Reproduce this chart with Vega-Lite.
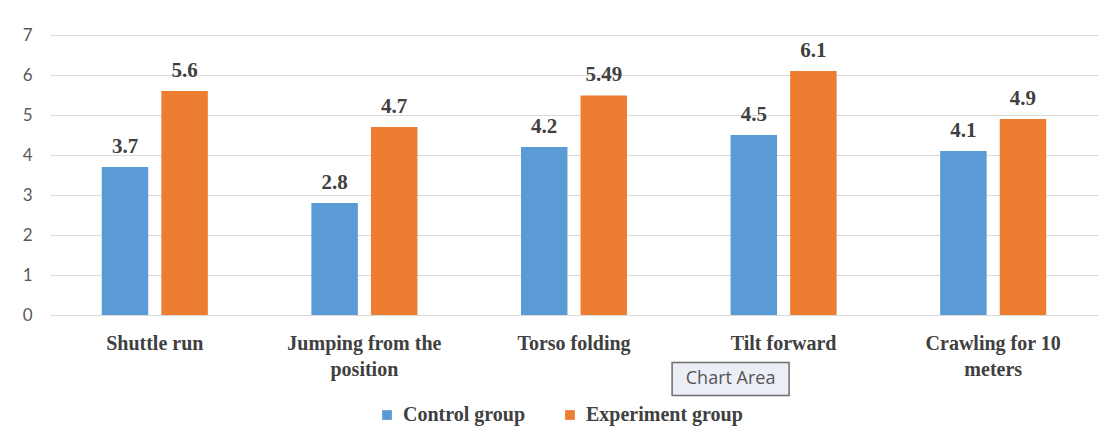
{
  "$schema": "https://vega.github.io/schema/vega-lite/v6.json",
  "width": 1048,
  "height": 280,
  "autosize": {"type": "none"},
  "padding": {"left": 50, "top": 35, "right": 12, "bottom": 127},
  "background": "white",
  "config": {"view": {"stroke": null}},
  "data": {
    "values": [
      {"category": "Shuttle run", "group": "Control group", "value": 3.7},
      {"category": "Shuttle run", "group": "Experiment group", "value": 5.6},
      {"category": "Jumping from the position", "group": "Control group", "value": 2.8},
      {"category": "Jumping from the position", "group": "Experiment group", "value": 4.7},
      {"category": "Torso folding", "group": "Control group", "value": 4.2},
      {"category": "Torso folding", "group": "Experiment group", "value": 5.49},
      {"category": "Tilt forward", "group": "Control group", "value": 4.5},
      {"category": "Tilt forward", "group": "Experiment group", "value": 6.1},
      {"category": "Crawling for 10 meters", "group": "Control group", "value": 4.1},
      {"category": "Crawling for 10 meters", "group": "Experiment group", "value": 4.9}
    ]
  },
  "encoding": {
    "x": {
      "field": "category", "type": "nominal", "sort": null,
      "scale": {"paddingInner": 0.494, "paddingOuter": 0.247},
      "axis": {
        "title": null, "domain": false, "ticks": false, "labelAngle": 0,
        "labelFont": "Liberation Serif", "labelFontWeight": "bold", "labelFontSize": 20,
        "labelColor": "#404040", "labelPadding": 18, "labelLineHeight": 26,
        "labelExpr": "datum.value == 'Jumping from the position' ? ['Jumping from the', 'position'] : datum.value == 'Crawling for 10 meters' ? ['Crawling for 10', 'meters'] : datum.value"
      }
    }
  },
  "layer": [
    {
      "mark": {"type": "bar"},
      "encoding": {
        "xOffset": {"field": "group", "type": "nominal", "scale": {"paddingInner": 0.22}},
        "y": {
          "field": "value", "type": "quantitative",
          "scale": {"domain": [0, 7]},
          "axis": {
            "title": null, "domain": false, "ticks": false, "tickCount": 7,
            "gridColor": "#d9d9d9", "gridWidth": 1.2,
            "labelFont": "Lato", "labelFontSize": 17, "labelColor": "#595959", "labelPadding": 18
          }
        },
        "color": {
          "field": "group", "type": "nominal",
          "scale": {"domain": ["Control group", "Experiment group"], "range": ["#5B9BD5", "#ED7D31"]},
          "legend": {
            "title": null, "orient": "none", "direction": "horizontal",
            "legendX": 327, "legendY": 370,
            "symbolType": "square", "symbolSize": 95, "symbolStrokeWidth": 0,
            "labelFont": "Liberation Serif", "labelFontWeight": "bold", "labelFontSize": 20,
            "labelColor": "#404040", "columnPadding": 34, "labelOffset": 6
          }
        }
      }
    },
    {
      "mark": {"type": "text", "baseline": "alphabetic", "dy": -14, "font": "Liberation Serif", "fontWeight": "bold", "fontSize": 21, "color": "#404040"},
      "encoding": {
        "xOffset": {"field": "group", "type": "nominal", "scale": {"paddingInner": 0.22}},
        "y": {"field": "value", "type": "quantitative"},
        "text": {"field": "value", "type": "nominal"}
      }
    },
    {
      "data": {"values": [{"category": "Tilt forward", "note": "Chart Area", "pos": -1.6}]},
      "layer": [
        {
          "mark": {"type": "point", "filled": true, "shape": "M-2.23,-0.33H0.11V0.33H-2.23Z", "size": 10000, "fill": "#eceef6", "stroke": "#6e6e6e", "strokeWidth": 1.5, "opacity": 1},
          "encoding": {"y": {"field": "pos", "type": "quantitative"}}
        },
        {
          "mark": {"type": "text", "dx": -53, "font": "Open Sans", "fontSize": 18, "color": "#555555"},
          "encoding": {"y": {"field": "pos", "type": "quantitative"}, "text": {"field": "note"}}
        }
      ]
    }
  ]
}
